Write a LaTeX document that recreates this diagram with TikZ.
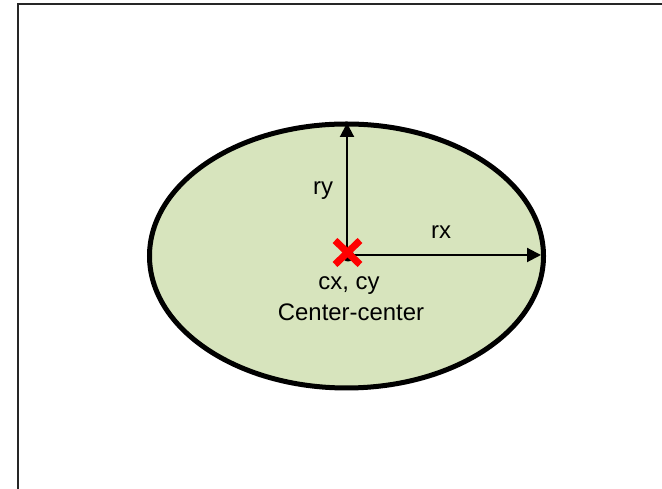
\documentclass[tikz,border=0pt]{standalone}
\usepackage{fontspec}
\setmainfont{Liberation Sans}
\usetikzlibrary{arrows.meta,shapes.geometric}
\definecolor{fillgreen}{HTML}{D7E4BD}
\tikzset{
  lbl/.style={font=\fontsize{24}{28}\selectfont, inner sep=0pt, anchor=base},
  radius arrow/.style={line width=2bp, -{Triangle[length=14bp,width=14bp]}},
  cross/.style={red, line width=7bp},
}
\begin{document}
\begin{tikzpicture}[x=1bp,y=1bp]
\useasboundingbox (0,0) rectangle (662,489);
% frame
\draw[line width=2bp, black!85] (17.5,-5) -- (17.5,485) -- (670,485);
% ellipse
\node (ell) [draw, line width=5bp, fill=fillgreen, ellipse, minimum width=394bp, minimum height=264bp, inner sep=0pt] at (346.5,233) {};
% centre point
\coordinate (c) at (347,234);
\coordinate (top) at (347,366);
\coordinate (right) at (541,234);
\fill (348,233.5) circle (6bp);
\draw[radius arrow] (c) -- (top);
\draw[radius arrow] (c) -- (right);
\draw[cross] (335,248.5) -- (360,224.5);
\draw[cross] (335,224.5) -- (360,248.5);
% labels
\node[lbl] (ry) at (323,294) {ry};
\node[lbl] (rx) at (441,250) {rx};
\node[lbl] (cxcy) at (349,199) {cx, cy};
\node[lbl] (cc) at (351,168) {Center-center};
\end{tikzpicture}
\end{document}
